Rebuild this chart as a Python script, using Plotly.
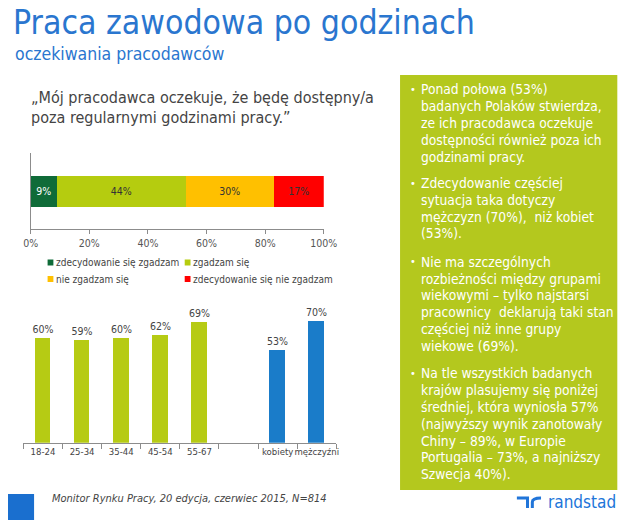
import plotly.graph_objects as go

W, H = 640, 520

# ---- data ----
agree_levels = ["zdecydowanie się zgadzam", "zgadzam się", "nie zgadzam się", "zdecydowanie się nie zgadzam"]
agree_values = [9, 44, 30, 17]
agree_colors = ["#0f6b38", "#b5cc0f", "#ffc000", "#ff0000"]
agree_text_colors = ["#ffffff", "#333333", "#333333", "#333333"]

age_groups = ["18-24", "25-34", "35-44", "45-54", "55-67"]
age_values = [60, 59, 60, 62, 69]
gender_groups = ["kobiety", "mężczyźni"]
gender_values = [53, 70]
bar_categories = age_groups + [" "] + gender_groups

pct_ticks = [0, 20, 40, 60, 80, 100]
pct_tick_labels = ["0%", "20%", "40%", "60%", "80%", "100%"]

title = "Praca zawodowa po godzinach"
subtitle = "oczekiwania pracodawców"
quote_lines = ["„Mój pracodawca oczekuje, że będę dostępny/a", "poza regularnymi godzinami pracy.\u201d"]
bullets = [
    ["Ponad połowa (53%)", "badanych Polaków stwierdza,", "ze ich pracodawca oczekuje",
     "dostępności również poza ich", "godzinami pracy."],
    ["Zdecydowanie częściej", "sytuacja taka dotyczy", "mężczyzn (70%),  niż kobiet", "(53%)."],
    ["Nie ma szczególnych", "rozbieżności między grupami", "wiekowymi – tylko najstarsi",
     "pracownicy  deklarują taki stan", "częściej niż inne grupy", "wiekowe (69%)."],
    ["Na tle wszystkich badanych", "krajów plasujemy się poniżej", "średniej, która wyniosła 57%",
     "(najwyższy wynik zanotowały", "Chiny – 89%, w Europie", "Portugalia – 73%, a najniższy",
     "Szwecja 40%)."],
]
footer = "Monitor Rynku Pracy, 20 edycja, czerwiec 2015, N=814"

FONT = "DejaVu Sans Condensed, DejaVu Sans, sans-serif"

def px(x):
    return x / W

def py(y):
    return 1 - y / H

fig = go.Figure()

# stacked horizontal bar
for name, val, col, tcol in zip(agree_levels, agree_values, agree_colors, agree_text_colors):
    fig.add_trace(go.Bar(
        x=[val], y=["q"], orientation="h", name=name,
        marker=dict(color=col, line=dict(width=0)),
        text=[f"{val}%"], textposition="inside", insidetextanchor="middle",
        constraintext="none",
        textfont=dict(color=tcol, size=10.5, family=FONT),
        width=0.41, xaxis="x", yaxis="y", showlegend=False,
    ))

# age & gender bars
fig.add_trace(go.Bar(
    x=age_groups, y=age_values, marker=dict(color="#b6cb14", line=dict(width=0)),
    text=[f"{v}%" for v in age_values], textposition="outside", constraintext="none",
    textfont=dict(color="#444444", size=10.5, family=FONT), cliponaxis=False,
    width=0.4, xaxis="x2", yaxis="y2", showlegend=False,
))
fig.add_trace(go.Bar(
    x=gender_groups, y=gender_values, marker=dict(color="#1a7cc9", line=dict(width=0)),
    text=[f"{v}%" for v in gender_values], textposition="outside", constraintext="none",
    textfont=dict(color="#444444", size=10.5, family=FONT), cliponaxis=False,
    width=0.4, xaxis="x2", yaxis="y2", showlegend=False,
))

axis_line = "#8c8c8c"
fig.update_layout(
    width=W, height=H, margin=dict(l=0, r=0, t=0, b=0),
    paper_bgcolor="white", plot_bgcolor="white",
    barmode="stack", bargap=0,
    font=dict(family=FONT, color="#444444"),
    xaxis=dict(domain=[px(23.5), px(327)], anchor="y", range=[0, 100],
               tickvals=pct_ticks, ticktext=pct_tick_labels, tickangle=0,
               showgrid=False, zeroline=False, showline=True, linecolor=axis_line,
               ticks="outside", ticklen=4, tickcolor=axis_line,
               tickfont=dict(size=10.5, color="#555555", family=FONT)),
    yaxis=dict(domain=[py(229.3), py(152.7)], anchor="x", range=[-0.5, 0.5],
               showticklabels=False, showgrid=False, zeroline=False,
               showline=True, linecolor=axis_line, ticks="", fixedrange=True),
    xaxis2=dict(domain=[px(16), px(340)], anchor="y2", type="category",
                categoryorder="array", categoryarray=bar_categories, range=[-0.5, 7.5],
                showgrid=False, zeroline=False, showline=True, linecolor=axis_line,
                ticks="outside", tickson="boundaries", ticklen=5, tickcolor=axis_line,
                tickangle=0,
                tickfont=dict(size=9.5, color="#444444", family=FONT)),
    yaxis2=dict(domain=[py(442.7), py(302.7)], anchor="x2", range=[0, 80],
                visible=False),
)

ann = []
shapes = []

def text(x, y, s, size, color, anchor="left"):
    ann.append(dict(xref="paper", yref="paper", x=px(x), y=py(y), text=s, showarrow=False,
                    xanchor=anchor, yanchor="middle",
                    font=dict(size=size, color=color, family=FONT)))

# titles
text(3, 23, title, 33.5, "#2a76cf")
text(5, 54, subtitle, 17.5, "#2a76cf")
for i, line in enumerate(quote_lines):
    text(22, 97 + 21 * i, line, 16, "#444444")

# legend (manual)
leg_pos = [(41, 262.5), (183, 262.5), (41, 279), (183, 279)]
for (lx, ly), name, col in zip(leg_pos, agree_levels, agree_colors):
    shapes.append(dict(type="rect", xref="paper", yref="paper", x0=px(lx), x1=px(lx + 6),
                       y0=py(ly + 3), y1=py(ly - 3), fillcolor=col, line=dict(width=0)))
    text(lx + 7, ly, name, 10, "#444444")

# green box
shapes.append(dict(type="rect", xref="paper", yref="paper", x0=px(406), x1=px(631),
                   y0=py(490), y1=py(75), fillcolor="#b4c81e", line=dict(width=0), layer="below"))
starts = [89.3, 183, 261.7, 373.3]
lh = 16.8
for bl, y0 in zip(bullets, starts):
    text(414, y0, "•", 11, "white")
    for j, line in enumerate(bl):
        text(426, y0 + lh * j, line, 13.7, "white")

# footer
shapes.append(dict(type="rect", xref="paper", yref="paper", x0=0, x1=px(27), y0=0, y1=py(494),
                   fillcolor="#1a6fcf", line=dict(width=0)))
text(44, 498, f"<i>{footer}</i>", 11, "#444444")

# randstad logo
logo_col = "#2175d9"
shapes.append(dict(type="path", xref="paper", yref="paper",
                   path=f"M {px(527)} {py(498)} L {px(538)} {py(498)} L {px(538)} {py(508)}",
                   line=dict(color=logo_col, width=3)))
shapes.append(dict(type="path", xref="paper", yref="paper",
                   path=f"M {px(543)} {py(508)} L {px(543)} {py(502)} Q {px(543)} {py(498)} {px(552)} {py(498)}",
                   line=dict(color=logo_col, width=3)))
text(557, 502, "randstad", 17, logo_col)

fig.update_layout(annotations=ann, shapes=shapes)
fig.write_html("out.html", config={"displayModeBar": False},
               post_script="document.body.style.margin='0';document.body.style.overflow='hidden';")
